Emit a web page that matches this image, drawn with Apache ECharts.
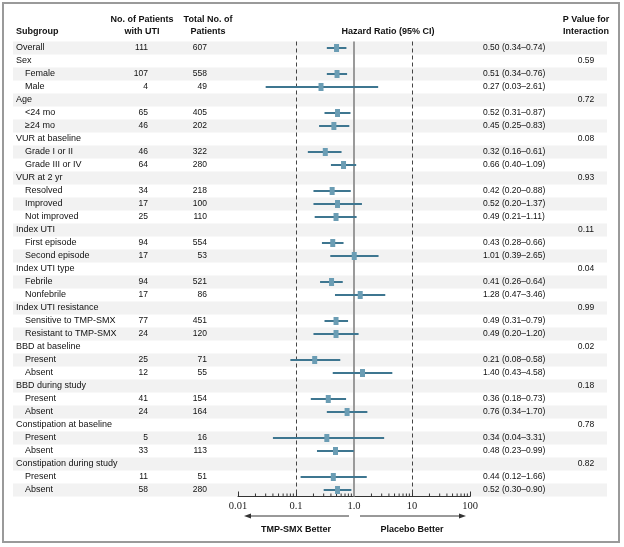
<!DOCTYPE html>
<html><head><meta charset="utf-8">
<script src="https://cdn.jsdelivr.net/npm/echarts@6/dist/echarts.min.js"></script>
<style>html,body{margin:0;padding:0;background:#fff}#c{width:624px;height:547px}</style>
</head><body><div id="c"></div>
<script>
const subgroups = ['Overall','Sex','Female','Male','Age','<24 mo','\u226524 mo','VUR at baseline','Grade I or II','Grade III or IV','VUR at 2 yr','Resolved','Improved','Not improved','Index UTI','First episode','Second episode','Index UTI type','Febrile','Nonfebrile','Index UTI resistance','Sensitive to TMP-SMX','Resistant to TMP-SMX','BBD at baseline','Present','Absent','BBD during study','Present','Absent','Constipation at baseline','Present','Absent','Constipation during study','Present','Absent'];
const levels = [0,0,1,1,0,1,1,0,1,1,0,1,1,1,0,1,1,0,1,1,0,1,1,0,1,1,0,1,1,0,1,1,0,1,1];
const utiCounts = ['111','','107','4','','65','46','','46','64','','34','17','25','','94','17','','94','17','','77','24','','25','12','','41','24','','5','33','','11','58'];
const totalCounts = ['607','','558','49','','405','202','','322','280','','218','100','110','','554','53','','521','86','','451','120','','71','55','','154','164','','16','113','','51','280'];
const hazard = [0.50,null,0.51,0.27,null,0.52,0.45,null,0.32,0.66,null,0.42,0.52,0.49,null,0.43,1.01,null,0.41,1.28,null,0.49,0.49,null,0.21,1.40,null,0.36,0.76,null,0.34,0.48,null,0.44,0.52];
const ciLow = [0.34,null,0.34,0.03,null,0.31,0.25,null,0.16,0.40,null,0.20,0.20,0.21,null,0.28,0.39,null,0.26,0.47,null,0.31,0.20,null,0.08,0.43,null,0.18,0.34,null,0.04,0.23,null,0.12,0.30];
const ciHigh = [0.74,null,0.76,2.61,null,0.87,0.83,null,0.61,1.09,null,0.88,1.37,1.11,null,0.66,2.65,null,0.64,3.46,null,0.79,1.20,null,0.58,4.58,null,0.73,1.70,null,3.31,0.99,null,1.66,0.90];
const pValues = ['','0.59','','','0.72','','','0.08','','','0.93','','','','0.11','','','0.04','','','0.99','','','0.02','','','0.18','','','0.78','','','0.82','',''];
const xTickValues = [0.01,0.1,1,10,100];
const xTickLabels = ['0.01','0.1','1.0','10','100'];
const minorTickValues = [0.02,0.03,0.04,0.05,0.06,0.07,0.08,0.09,0.2,0.3,0.4,0.5,0.6,0.7,0.8,0.9,2,3,4,5,6,7,8,9,20,30,40,50,60,70,80,90];
const referenceLines = [0.1,1,10];

const FONT = 'Liberation Sans';
const FS_LABEL = 9;
const FS_NUM = 8.5;
const FS_HDR = 9;
const TXT = '#111';
const rowIdx = subgroups.map((_, i) => i);

function colAxis(position, margin, align, fontSize, fn) {
  return {
    type: 'category', data: rowIdx, inverse: true, position: position, offset: 0,
    axisLine: {show: false}, axisTick: {show: false}, splitLine: {show: false},
    axisLabel: {interval: 0, margin: margin, align: align, color: TXT, fontFamily: FONT, fontSize: fontSize,
      formatter: (v, idx) => fn(idx)}
  };
}
const fmt = v => v.toFixed(2);

const ciData = [], ptData = [];
hazard.forEach((h, i) => {
  if (h != null) { ciData.push([i, ciLow[i], ciHigh[i]]); ptData.push([h, i]); }
});

const chart = echarts.init(document.getElementById('c'), null, {renderer: 'canvas'});
const option = {
  animation: false,
  grid: {left: 238, right: 154, top: 41.5, bottom: 50.5, containLabel: false, outerBoundsMode: 'none'},
  xAxis: {
    type: 'log', logBase: 10, min: 0.01, max: 100, interval: 1, position: 'bottom',
    axisLine: {show: true, lineStyle: {color: '#333', width: 1}},
    axisTick: {show: true, inside: true, length: 5, lineStyle: {color: '#333', width: 1}},
    splitLine: {show: false},
    axisLabel: {margin: 4, color: '#222', fontFamily: 'Liberation Serif', fontSize: 10.5,
      formatter: v => { const k = xTickValues.findIndex(t => Math.abs(Math.log10(t) - Math.log10(v)) < 1e-6); return k >= 0 ? xTickLabels[k] : ''; }}
  },
  yAxis: [
    colAxis('left', 222, 'left', FS_LABEL, i => levels[i] === 0 ? subgroups[i] : ''),
    colAxis('left', 213, 'left', FS_LABEL, i => levels[i] === 1 ? subgroups[i] : ''),
    colAxis('left', 90, 'right', FS_NUM, i => utiCounts[i]),
    colAxis('left', 31, 'right', FS_NUM, i => totalCounts[i]),
    colAxis('right', 13, 'left', FS_NUM, i => hazard[i] != null ? fmt(hazard[i]) + ' (' + fmt(ciLow[i]) + '\u2013' + fmt(ciHigh[i]) + ')' : ''),
    colAxis('right', 116, 'center', FS_NUM, i => pValues[i])
  ],
  series: [
    {
      type: 'custom', name: 'minorTicks', silent: true, z: 3,
      data: minorTickValues.map(v => [v, 0]), encode: {x: 0, y: 1},
      renderItem: (params, api) => {
        const x = api.coord([api.value(0), 0])[0];
        const b = params.coordSys.y + params.coordSys.height;
        return {type: 'line', shape: {x1: x, y1: b, x2: x, y2: b - 3}, style: {stroke: '#333', lineWidth: 1}};
      }
    },
    {
      type: 'custom', name: 'ci', silent: true, z: 4,
      data: ciData, encode: {x: [1, 2], y: 0},
      renderItem: (params, api) => {
        const y = api.value(0);
        const p1 = api.coord([api.value(1), y]);
        const p2 = api.coord([api.value(2), y]);
        return {type: 'line', shape: {x1: p1[0], y1: p1[1], x2: p2[0], y2: p2[1]}, style: {stroke: '#3e7690', lineWidth: 2}};
      }
    },
    {
      type: 'scatter', name: 'hr', silent: true, z: 5,
      symbol: 'rect', symbolSize: [5, 8],
      itemStyle: {color: '#6b9db4', opacity: 1},
      data: ptData,
      markLine: {
        silent: true, symbol: 'none', label: {show: false}, z: 2,
        data: referenceLines.map(v => v === 1
          ? {xAxis: v, lineStyle: {color: '#9a9a9a', width: 2, type: 'solid'}}
          : {xAxis: v, lineStyle: {color: '#444', width: 1, type: [4, 3]}})
      }
    }
  ]
};
chart.setOption(option);

const px = v => chart.convertToPixel({xAxisIndex: 0}, v);
const py = i => chart.convertToPixel({yAxisIndex: 0}, i);
const gfx = [];
rowIdx.forEach(i => {
  if (i % 2 === 0) {
    const yc = py(i);
    gfx.push({type: 'rect', z: -10, silent: true, shape: {x: 13, y: yc - 6.5, width: 594, height: 13}, style: {fill: '#f2f2f2'}});
  }
});
gfx.push({type: 'rect', z: 20, silent: true, shape: {x: 3, y: 3, width: 616, height: 539}, style: {fill: null, stroke: '#9a9a9a', lineWidth: 2}});
const hdr = (text, x, y, align) => ({type: 'text', z: 20, silent: true, x: x, y: y,
  style: {text: text, fill: TXT, font: 'bold ' + FS_HDR + 'px "' + FONT + '"', align: align, verticalAlign: 'middle'}});
gfx.push(hdr('Subgroup', 16, 32, 'left'));
gfx.push(hdr('No. of Patients', 142, 20, 'center'));
gfx.push(hdr('with UTI', 142, 31.5, 'center'));
gfx.push(hdr('Total No. of', 208, 20, 'center'));
gfx.push(hdr('Patients', 208, 31.5, 'center'));
gfx.push(hdr('Hazard Ratio (95% CI)', 388, 32, 'center'));
gfx.push(hdr('P Value for', 586, 20, 'center'));
gfx.push(hdr('Interaction', 586, 31.5, 'center'));
// arrows
const ay = 516;
const xL = px(0.01), x1 = px(1), xR = px(100);
gfx.push({type: 'line', z: 20, silent: true, shape: {x1: x1 - 5, y1: ay, x2: xL + 10, y2: ay}, style: {stroke: '#333', lineWidth: 1}});
gfx.push({type: 'polygon', z: 20, silent: true, shape: {points: [[xL + 6, ay], [xL + 13, ay - 2.5], [xL + 13, ay + 2.5]]}, style: {fill: '#333'}});
gfx.push({type: 'line', z: 20, silent: true, shape: {x1: x1 + 6, y1: ay, x2: xR - 8, y2: ay}, style: {stroke: '#333', lineWidth: 1}});
gfx.push({type: 'polygon', z: 20, silent: true, shape: {points: [[xR - 4, ay], [xR - 11, ay - 2.5], [xR - 11, ay + 2.5]]}, style: {fill: '#333'}});
gfx.push(hdr('TMP-SMX Better', px(0.1), 530, 'center'));
gfx.push(hdr('Placebo Better', px(10), 530, 'center'));
chart.setOption({graphic: gfx});
</script>
</body></html>
